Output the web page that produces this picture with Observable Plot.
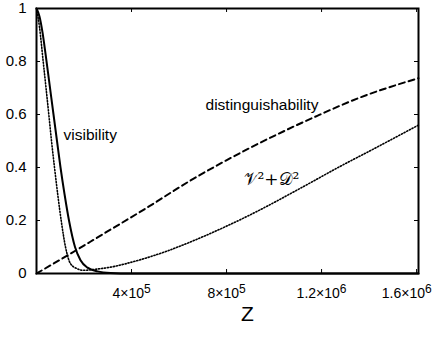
<!DOCTYPE html>
<html><head><meta charset="utf-8">
<script src="https://cdn.jsdelivr.net/npm/d3@7"></script>
<script src="https://cdn.jsdelivr.net/npm/@observablehq/plot@0.6"></script>
<style>body{margin:0;background:#fff} svg{display:block}</style>
</head><body><div id="chart"></div>
<script>
// Visibility (solid)
const visibilityZ = [0, 12600, 25300, 37900, 52600, 71600, 86300, 101100, 117900, 136800, 162100, 185300, 214700, 256800, 311600, 395800, 800000, 1200000, 1608000];
const visibilityV = [1, 0.97, 0.91, 0.83, 0.73, 0.6, 0.5, 0.4, 0.3, 0.2, 0.1, 0.05, 0.022, 0.008, 0.002, 0, 0, 0, 0];
// Distinguishability (dashed)
const distZ = [0, 143200, 269500, 459000, 648400, 901000, 1181700, 1350000, 1608000];
const distD = [0, 0.075, 0.143, 0.245, 0.351, 0.475, 0.595, 0.66, 0.737];
// V^2 + D^2 (dotted)
const sumZ = [0, 12600, 28200, 51800, 63200, 75800, 104000, 122100, 143200, 171400, 199200, 248400, 311600, 409700, 550300, 690500, 901000, 1111600, 1280000, 1419000, 1608000];
const sumS = [1, 0.93, 0.8, 0.6, 0.5, 0.4, 0.2, 0.1, 0.037, 0.018, 0.012, 0.016, 0.024, 0.045, 0.085, 0.135, 0.222, 0.322, 0.405, 0.47, 0.56];

// Axis ticks
const xTicks = [400000, 800000, 1200000, 1600000];
const xTickMantissa = ["4", "8", "1.2", "1.6"];
const xTickExponent = ["5", "5", "6", "6"];
const yTicks = [0, 0.2, 0.4, 0.6, 0.8, 1];
const yTickLabels = ["0", "0.2", "0.4", "0.6", "0.8", "1"];
const xLabel = "Z";

// Annotations
const annotText = ["visibility", "distinguishability"];
const annotZ = [113700, 711600];
const annotY = [0.523, 0.635];
const sumLabel = "𝒱²+𝒟²";
const sumLabelZ = [871600];
const sumLabelY = [0.355];

const visData = visibilityZ.map((z, i) => ({z, v: visibilityV[i]}));
const distData = distZ.map((z, i) => ({z, v: distD[i]}));
const sumData = sumZ.map((z, i) => ({z, v: sumS[i]}));
const annots = annotText.map((t, i) => ({t, z: annotZ[i], y: annotY[i]}));
const xLab = new Map(xTicks.map((d, i) => [d, `${xTickMantissa[i]}×10^${xTickExponent[i]}`]));
const yLab = new Map(yTicks.map((d, i) => [d, yTickLabels[i]]));

const W = 436, H = 339, mL = 36, mR = 18, mT = 8, mB = 66;
const fw = W - mL - mR, fh = H - mT - mB, tl = 4;
const FONT = "'Liberation Sans', Arial, Helvetica, sans-serif";

const plot = Plot.plot({
  width: W, height: H,
  marginLeft: mL, marginRight: mR, marginTop: mT, marginBottom: mB,
  style: {fontFamily: FONT, fontSize: "15px", color: "#000", background: "#fff"},
  x: {domain: [0, 1608000]},
  y: {domain: [0, 1]},
  marks: [
    Plot.axisX(xTicks, {anchor: "bottom", tickSize: 0, tickPadding: 15, tickFormat: d => xLab.get(d), label: null, fontSize: 14}),
    Plot.axisY(yTicks, {anchor: "left", tickSize: 0, tickPadding: 10, tickFormat: d => yLab.get(d), label: null, fontSize: 15}),
    Plot.tickX(xTicks, {x: d => d, insetTop: fh - tl, stroke: "black"}),
    Plot.tickX(xTicks, {x: d => d, insetBottom: fh - tl, stroke: "black"}),
    Plot.tickY(yTicks, {y: d => d, insetRight: fw - tl, stroke: "black"}),
    Plot.tickY(yTicks, {y: d => d, insetLeft: fw - tl, stroke: "black"}),
    Plot.line(distData, {x: "z", y: "v", curve: "monotone-x", stroke: "black", strokeWidth: 2, strokeDasharray: "6,4"}),
    Plot.line(sumData, {x: "z", y: "v", curve: "monotone-x", stroke: "black", strokeWidth: 1.6, strokeDasharray: "1.2,1.8"}),
    Plot.line(visData, {x: "z", y: "v", curve: "monotone-x", stroke: "black", strokeWidth: 2}),
    Plot.text(annots, {x: "z", y: "y", text: "t", textAnchor: "start", fontSize: 15.5, fill: "black"}),
    Plot.text(sumLabelZ, {x: d => d, y: (d, i) => sumLabelY[i], text: () => sumLabel, textAnchor: "start", fontSize: 17, fill: "black", fontFamily: "'DejaVu Serif', 'DejaVu Sans', serif"}),
    Plot.text([xLabel], {text: d => d, frameAnchor: "bottom", dx: 20, dy: 47, fontSize: 21, fill: "black"}),
    Plot.frame({stroke: "black", strokeWidth: 2})
  ]
});
document.getElementById("chart").appendChild(plot);

// Enforce tick label font sizes
plot.querySelectorAll("g[aria-label='x-axis tick label'] text").forEach(t => t.style.fontSize = "14px");
plot.querySelectorAll("g[aria-label='y-axis tick label'] text").forEach(t => t.style.fontSize = "15px");

// Render x tick labels as mantissa×10 with a real superscript exponent
const svgNS = "http://www.w3.org/2000/svg";
const svgLeft = plot.getBoundingClientRect().left;
plot.querySelectorAll("g[aria-label='x-axis tick label'] text").forEach(t => {
  const s = t.textContent;
  const k = s.indexOf("^");
  if (k < 0) return;
  t.textContent = s.slice(0, k);
  const sup = document.createElementNS(svgNS, "tspan");
  sup.setAttribute("dy", "-5");
  sup.style.fontSize = "12px";
  sup.textContent = s.slice(k + 1);
  t.appendChild(sup);
  const r = t.getBoundingClientRect();
  const over = (r.right - svgLeft) - (W - 4);
  if (over > 0) t.setAttribute("dx", String(-over));
});
</script>
</body></html>
